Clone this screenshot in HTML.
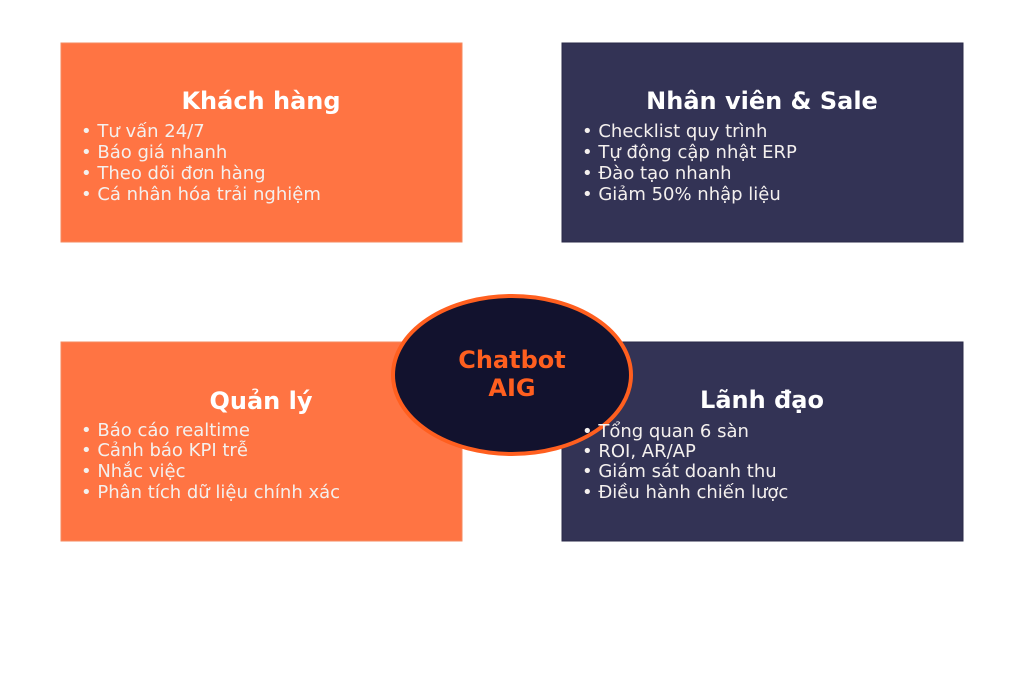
<!DOCTYPE html>
<html><head><meta charset="utf-8"><style>html,body{margin:0;padding:0;background:#fff}</style></head>
<body>
<svg width="1024" height="685" viewBox="0 0 1024 685" xmlns="http://www.w3.org/2000/svg" font-family="'DejaVu Sans','Liberation Sans',sans-serif">
<rect x="0" y="0" width="1024" height="685" fill="#fff"/>
<rect x="61" y="43" width="401" height="199" fill="#ff7443" stroke="#f58a5f" stroke-width="1"/>
<rect x="562" y="43" width="401" height="199" fill="#333355" stroke="#2a2a48" stroke-width="1"/>
<rect x="61" y="342" width="401" height="199" fill="#ff7443" stroke="#f58a5f" stroke-width="1"/>
<rect x="562" y="342" width="401" height="199" fill="#333355" stroke="#2a2a48" stroke-width="1"/>
<g fill="#fff" font-weight="bold" font-size="24" text-anchor="middle">
<text x="261" y="109">Khách hàng</text>
<text x="762" y="109">Nhân viên &amp; Sale</text>
<text x="261" y="409">Quản lý</text>
<text x="762" y="408">Lãnh đạo</text>
</g>
<g fill="#f4f0ee" font-size="18">
<text x="81" y="137">• Tư vấn 24/7</text>
<text x="81" y="158">• Báo giá nhanh</text>
<text x="81" y="179">• Theo dõi đơn hàng</text>
<text x="81" y="200">• Cá nhân hóa trải nghiệm</text>
<text x="582" y="137">• Checklist quy trình</text>
<text x="582" y="158">• Tự động cập nhật ERP</text>
<text x="582" y="179">• Đào tạo nhanh</text>
<text x="582" y="200">• Giảm 50% nhập liệu</text>
<text x="81" y="436">• Báo cáo realtime</text>
<text x="81" y="456">• Cảnh báo KPI trễ</text>
<text x="81" y="477">• Nhắc việc</text>
<text x="81" y="498">• Phân tích dữ liệu chính xác</text>
</g>
<ellipse cx="512" cy="375" rx="119" ry="79" fill="#12122e" stroke="#ff5f1f" stroke-width="4"/>
<g fill="#f4f0ee" font-size="18">
<text x="582" y="437">• Tổng quan 6 sàn</text>
<text x="582" y="457">• ROI, AR/AP</text>
<text x="582" y="477">• Giám sát doanh thu</text>
<text x="582" y="498">• Điều hành chiến lược</text>
</g>
<g fill="#ff5f1f" font-weight="bold" font-size="24" text-anchor="middle">
<text x="512" y="368">Chatbot</text>
<text x="512" y="396">AIG</text>
</g>
</svg>
</body></html>
